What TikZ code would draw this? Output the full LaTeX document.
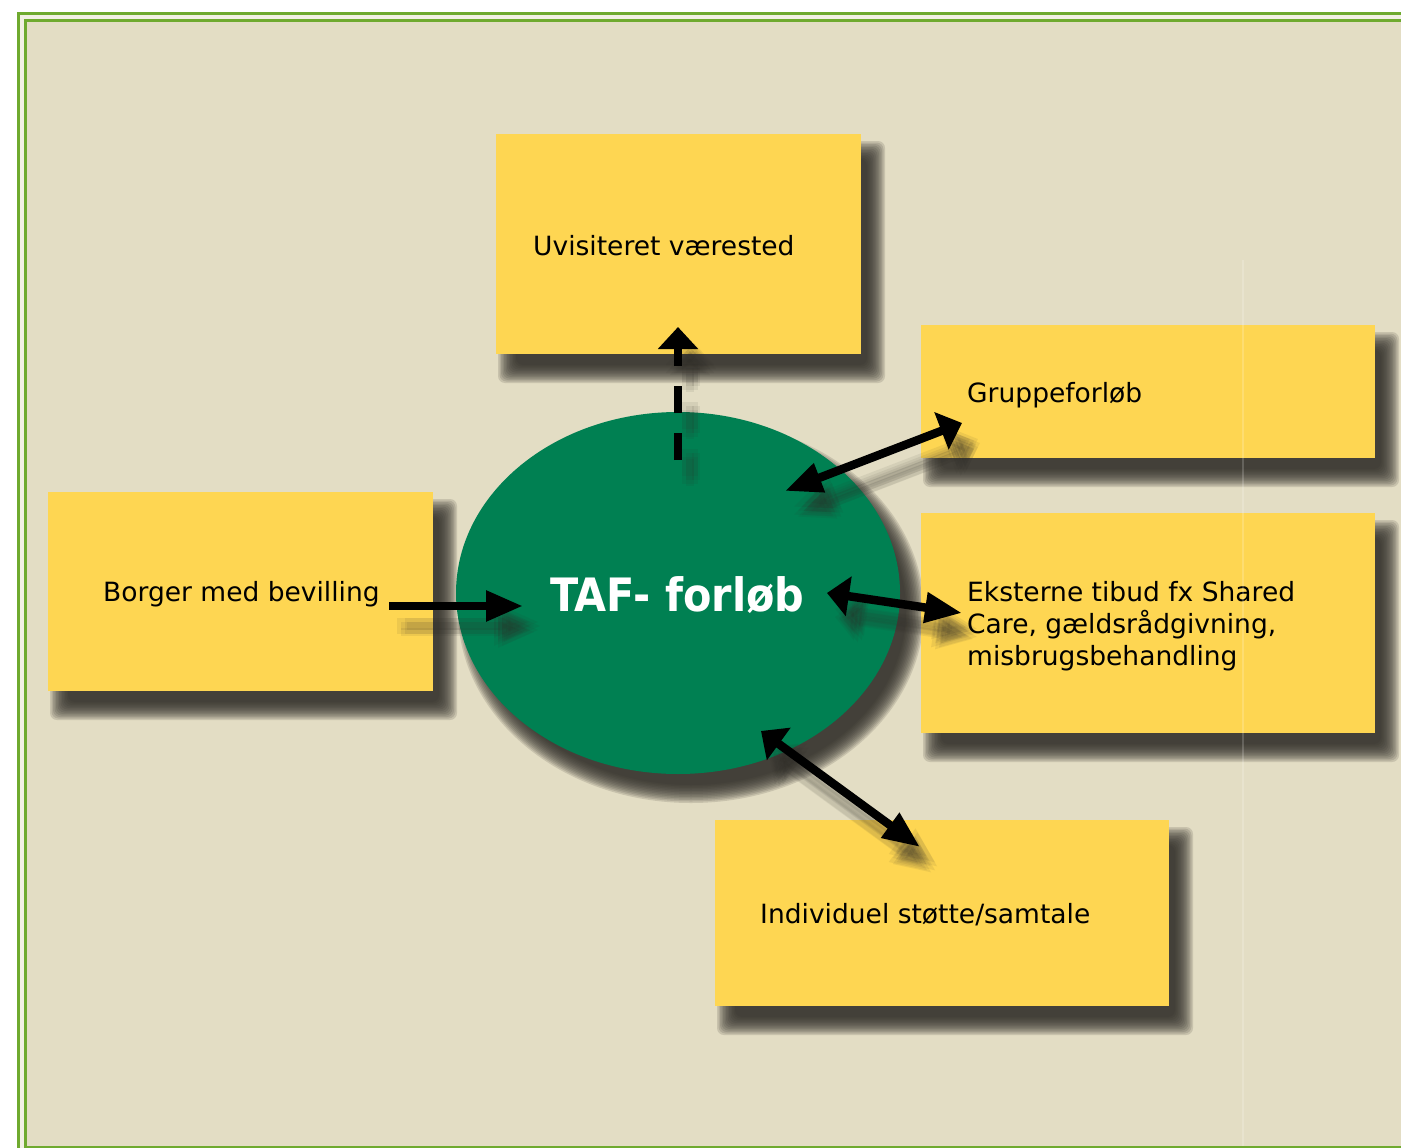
\documentclass[tikz,border=0pt]{standalone}
\usepackage{fontspec}
\setmainfont{DejaVu Sans}
\newfontfamily\taffont{DejaVu Sans Condensed}
\usetikzlibrary{arrows.meta,shapes.geometric}
\definecolor{bg}{HTML}{E3DDC4}
\definecolor{frameg}{HTML}{6FAA2F}
\definecolor{stripe}{HTML}{F2F0E4}
\definecolor{boxy}{HTML}{FED652}
\definecolor{tafg}{HTML}{008052}
\definecolor{shad}{HTML}{302E29}
\tikzset{
  Lhead/.tip={Triangle[length=37pt,width=29pt]},
  Shead/.tip={Triangle[length=22pt,width=39pt]},
}
\newcommand\softrect[4]{%
  \foreach \e in {11,9.5,8,6.5,5,3.5,2,0.5,-1,-2.5,-4,-5.5,-7}{%
    \fill[shad, opacity=0.15, rounded corners=7pt] ({#1+13-\e},{#2+18-\e}) rectangle ({#3+13+\e},{#4+18+\e});
  }}
\newcommand\arrshadow[3]{%
  \foreach \jx/\jy in {0/0,-4/-4,4/-4,-4/4,4/4,0/6,6/0}{%
    \draw[conn, #1, draw=shad, opacity=0.08] ([shift={(12+\jx,20+\jy)}]#2) -- ([shift={(12+\jx,20+\jy)}]#3);
  }}
\begin{document}
\begin{tikzpicture}[x=1pt,y=-1pt,
  box/.style={draw=none, fill=boxy, rectangle, inner sep=0pt},
  lbl/.style={anchor=base west, inner sep=0pt, font=\fontsize{26.5}{32}\selectfont, text=black, align=left},
  conn/.style={line width=8.5pt},
  dashedconn/.style={dash pattern=on 27pt off 20pt},
]
\useasboundingbox (0,0) rectangle (1401,1148);
% frame
\fill[white] (0,0) rectangle (1401,1148);
\fill[frameg] (17,12) rectangle (1420,1160);
\fill[stripe] (20,15) rectangle (1420,1157);
\fill[frameg] (24,19) rectangle (1420,1152);
\fill[bg] (27,22) rectangle (1420,1146);

% shadows of shapes
\softrect{496}{134}{861}{354}
\softrect{921}{325}{1375}{458}
\softrect{921}{513}{1375}{733}
\softrect{48}{492}{433}{691}
\softrect{715}{820}{1169}{1006}
\foreach \e in {11,9.5,8,6.5,5,3.5,2,0.5,-1,-2.5,-4,-5.5,-7}{%
  \fill[shad, opacity=0.15] (691,611) ellipse [x radius={222pt+\e pt}, y radius={181pt+\e pt}];
}

% boxes and ellipse
\node[box, minimum width=365pt, minimum height=220pt] (uv) at (678.5,244) {};
\node[box, minimum width=454pt, minimum height=133pt] (gr) at (1148,391.5) {};
\node[box, minimum width=454pt, minimum height=220pt] (ek) at (1148,623) {};
\node[box, minimum width=385pt, minimum height=199pt] (bo) at (240.5,591.5) {};
\node[box, minimum width=454pt, minimum height=186pt] (in) at (942,913) {};
\node[ellipse, fill=tafg, draw=none, inner sep=0pt, minimum width=444pt, minimum height=362pt] (taf) at (678,593) {};

% connector end points
\coordinate (a1s) at (389,606);
\coordinate (a1e) at (523,606);
\coordinate (a2s) at (678,460);
\coordinate (a2e) at (678,327);
\coordinate (a3s) at (785,491);
\coordinate (a3e) at (962,423);
\coordinate (a4s) at (827,593);
\coordinate (a4e) at (962,613);
\coordinate (a5s) at (761,731);
\coordinate (a5e) at (920,847);

% connector shadows
\arrshadow{-Lhead}{a1s}{a1e}
\arrshadow{-Shead, dashedconn}{a2s}{a2e}
\arrshadow{Lhead-Shead}{a3s}{a3e}
\arrshadow{Shead-Lhead}{a4s}{a4e}
\arrshadow{Shead-Lhead}{a5s}{a5e}

% texts
\node[lbl] (tuv) at (533,255) {Uvisiteret værested};
\node[lbl] (tgr) at (967,402) {Gruppeforløb};
\node[lbl] (tek) at (967,665) {Eksterne tibud fx Shared\\Care, gældsrådgivning,\\misbrugsbehandling};
\node[lbl] (tbo) at (103,601) {Borger med bevilling};
\node[lbl] (tin) at (760,923) {Individuel støtte/samtale};
\node[anchor=base west, inner sep=0pt, text=white, font=\taffont\bfseries\fontsize{46}{50}\selectfont] (ttaf) at (550,611) {TAF- forløb};

% connectors
\draw[conn, -Lhead] (a1s) -- (a1e);
\draw[conn, -Shead, dashedconn] (a2s) -- (a2e);
\draw[conn, Lhead-Shead] (a3s) -- (a3e);
\draw[conn, Shead-Lhead] (a4s) -- (a4e);
\draw[conn, Shead-Lhead] (a5s) -- (a5e);

% faint guide line
\draw[white, opacity=0.18, line width=1.5pt] (1243,260) -- (1243,1146);
\end{tikzpicture}
\end{document}
